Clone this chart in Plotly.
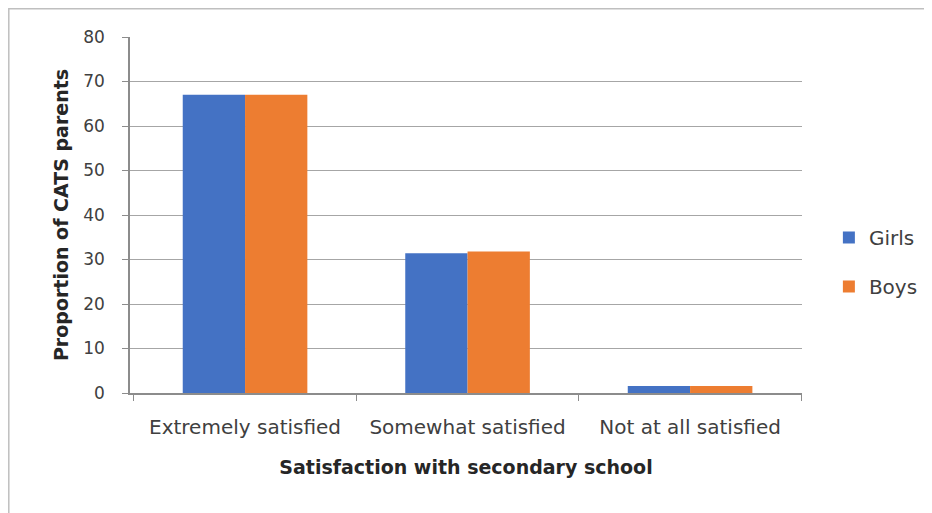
import plotly.graph_objects as go

categories = ["Extremely satisfied", "Somewhat satisfied", "Not at all satisfied"]
girls = [67.0, 31.4, 1.6]
boys = [67.0, 31.8, 1.6]
y_ticks = [0, 10, 20, 30, 40, 50, 60, 70, 80]

# the page body adds an 8px offset; compensate
OFF = 8
W, H = 932, 513
L, T = 130 - OFF, 37 - OFF
pw, ph = 672, 356
R = W - L - pw
B = H - T - ph

def fx(x_fig):
    return (x_fig - L) / pw

def fy(y_fig):
    return (T + ph - y_fig) / ph

fig = go.Figure()
fig.add_trace(go.Bar(name="Girls", x=categories, y=girls, marker_color="#4472C4",
                     marker_line_width=0, legendgroup="g"))
fig.add_trace(go.Bar(name="Boys", x=categories, y=boys, marker_color="#ED7D31",
                     marker_line_width=0, legendgroup="b"))

font = "DejaVu Sans, sans-serif"
fig.update_layout(
    width=W, height=H,
    margin=dict(l=L, r=R, t=T, b=B),
    paper_bgcolor="white", plot_bgcolor="white",
    barmode="group", bargap=0.44, bargroupgap=0,
    font=dict(family=font, size=17, color="#404040"),
    showlegend=True,
    legend=dict(x=1.04, y=0.368, xanchor="left", yanchor="middle",
                font=dict(size=20, color="#404040"), tracegroupgap=20,
                itemwidth=30),
    xaxis=dict(
        range=[-0.517, 2.503],
        showline=True, linecolor="#8C8C8C", linewidth=1.5,
        ticks="outside", tickson="boundaries", ticklen=6, tickcolor="#8C8C8C",
        tickfont=dict(size=20, color="#404040"), ticklabelstandoff=15,
        title=dict(text="<b>Satisfaction with secondary school</b>",
                   font=dict(size=19, color="#262626"), standoff=23),
    ),
    yaxis=dict(
        range=[0, 80], tickvals=y_ticks, showgrid=True, gridcolor="#A6A6A6", gridwidth=1,
        showline=True, linecolor="#8C8C8C", linewidth=1.5,
        ticks="outside", ticklen=6, tickcolor="#8C8C8C",
        tickfont=dict(size=17, color="#404040"), ticklabelstandoff=14,
        zeroline=False,
        title=dict(text="<b>Proportion of CATS parents</b>",
                   font=dict(size=19, color="#262626"), standoff=10),
    ),
    shapes=[dict(type="rect", xref="paper", yref="paper",
                 x0=fx(0.8), x1=fx(W + 10), y0=fy(H + 10), y1=fy(0.8),
                 line=dict(color="#BFBFBF", width=1.5), fillcolor="rgba(0,0,0,0)", layer="below")],
)

fig.write_html("out.html")
